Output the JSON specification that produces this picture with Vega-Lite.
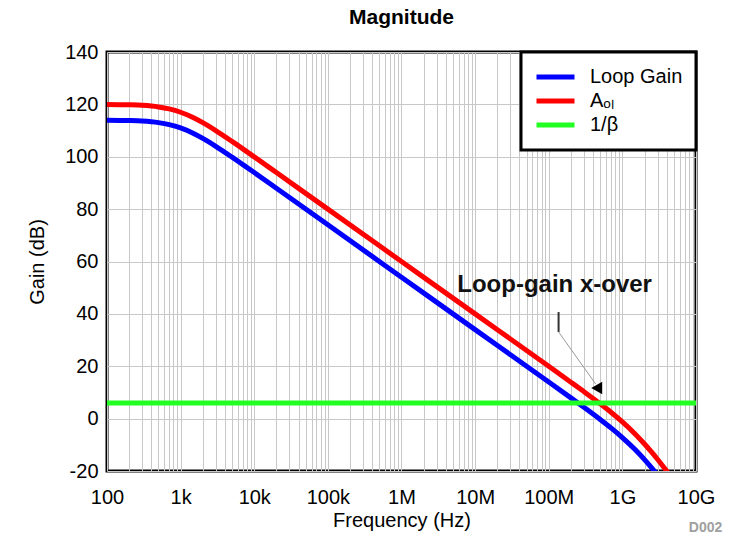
{
  "$schema": "https://vega.github.io/schema/vega-lite/v6.json",
  "autosize": {"type": "none"},
  "padding": {"left": 107, "top": 52, "right": 47, "bottom": 69},
  "width": 589,
  "height": 419,
  "title": {"text": "Magnitude", "fontSize": 21, "fontWeight": "bold", "font": "Liberation Sans", "color": "#000000", "offset": 14, "anchor": "middle"},
  "config": {
    "font": "Liberation Sans",
    "view": {"stroke": "#000000", "strokeWidth": 3},
    "legend": {"strokeWidth": 3},
    "axis": {"labelFont": "Liberation Sans", "titleFont": "Liberation Sans", "labelColor": "#000000", "titleColor": "#000000", "titleFontWeight": "normal", "gridColor": "#c8c8c8", "gridWidth": 1, "gridOpacity": 1, "domain": false, "ticks": false}
  },
  "datasets": {
    "curves": [
      {"f": 100, "gain": 119.96, "series": "Aₒₗ"},
      {"f": 200, "gain": 119.83, "series": "Aₒₗ"},
      {"f": 300, "gain": 119.63, "series": "Aₒₗ"},
      {"f": 500, "gain": 119.03, "series": "Aₒₗ"},
      {"f": 700, "gain": 118.27, "series": "Aₒₗ"},
      {"f": 1000, "gain": 116.99, "series": "Aₒₗ"},
      {"f": 1500, "gain": 114.88, "series": "Aₒₗ"},
      {"f": 2000, "gain": 113.01, "series": "Aₒₗ"},
      {"f": 3000, "gain": 110.0, "series": "Aₒₗ"},
      {"f": 5000, "gain": 105.85, "series": "Aₒₗ"},
      {"f": 7000, "gain": 103.01, "series": "Aₒₗ"},
      {"f": 10000, "gain": 99.96, "series": "Aₒₗ"},
      {"f": 20000, "gain": 93.97, "series": "Aₒₗ"},
      {"f": 50000, "gain": 86.02, "series": "Aₒₗ"},
      {"f": 100000, "gain": 80.0, "series": "Aₒₗ"},
      {"f": 1000000, "gain": 60.0, "series": "Aₒₗ"},
      {"f": 10000000, "gain": 40.0, "series": "Aₒₗ"},
      {"f": 100000000, "gain": 19.99, "series": "Aₒₗ"},
      {"f": 200000000, "gain": 13.92, "series": "Aₒₗ"},
      {"f": 300000000, "gain": 10.33, "series": "Aₒₗ"},
      {"f": 500000000, "gain": 5.68, "series": "Aₒₗ"},
      {"f": 700000000, "gain": 2.45, "series": "Aₒₗ"},
      {"f": 1000000000, "gain": -1.24, "series": "Aₒₗ"},
      {"f": 1500000000, "gain": -5.93, "series": "Aₒₗ"},
      {"f": 2000000000, "gain": -9.68, "series": "Aₒₗ"},
      {"f": 2500000000, "gain": -12.82, "series": "Aₒₗ"},
      {"f": 3000000000, "gain": -15.53, "series": "Aₒₗ"},
      {"f": 3500000000, "gain": -17.91, "series": "Aₒₗ"},
      {"f": 4000000000, "gain": -20.02, "series": "Aₒₗ"},
      {"f": 4500000000, "gain": -21.92, "series": "Aₒₗ"},
      {"f": 100, "gain": 113.96, "series": "Loop Gain"},
      {"f": 200, "gain": 113.83, "series": "Loop Gain"},
      {"f": 300, "gain": 113.63, "series": "Loop Gain"},
      {"f": 500, "gain": 113.03, "series": "Loop Gain"},
      {"f": 700, "gain": 112.27, "series": "Loop Gain"},
      {"f": 1000, "gain": 110.99, "series": "Loop Gain"},
      {"f": 1500, "gain": 108.88, "series": "Loop Gain"},
      {"f": 2000, "gain": 107.01, "series": "Loop Gain"},
      {"f": 3000, "gain": 104.0, "series": "Loop Gain"},
      {"f": 5000, "gain": 99.85, "series": "Loop Gain"},
      {"f": 7000, "gain": 97.01, "series": "Loop Gain"},
      {"f": 10000, "gain": 93.96, "series": "Loop Gain"},
      {"f": 20000, "gain": 87.97, "series": "Loop Gain"},
      {"f": 50000, "gain": 80.02, "series": "Loop Gain"},
      {"f": 100000, "gain": 74.0, "series": "Loop Gain"},
      {"f": 1000000, "gain": 54.0, "series": "Loop Gain"},
      {"f": 10000000, "gain": 34.0, "series": "Loop Gain"},
      {"f": 100000000, "gain": 13.99, "series": "Loop Gain"},
      {"f": 200000000, "gain": 7.92, "series": "Loop Gain"},
      {"f": 300000000, "gain": 4.33, "series": "Loop Gain"},
      {"f": 500000000, "gain": -0.32, "series": "Loop Gain"},
      {"f": 700000000, "gain": -3.55, "series": "Loop Gain"},
      {"f": 1000000000, "gain": -7.24, "series": "Loop Gain"},
      {"f": 1500000000, "gain": -11.93, "series": "Loop Gain"},
      {"f": 2000000000, "gain": -15.68, "series": "Loop Gain"},
      {"f": 2500000000, "gain": -18.82, "series": "Loop Gain"},
      {"f": 3000000000, "gain": -21.53, "series": "Loop Gain"},
      {"f": 100, "gain": 6, "series": "1/β"},
      {"f": 10000000000, "gain": 6, "series": "1/β"}
    ]
  },
  "layer": [
    {
      "data": {"name": "curves"},
      "mark": {"type": "line", "strokeWidth": 5, "clip": true, "interpolate": "monotone"},
      "encoding": {
        "x": {
          "field": "f", "type": "quantitative",
          "scale": {"type": "log", "domain": [100, 10000000000], "nice": false},
          "axis": {
            "title": "Frequency (Hz)", "titleFontSize": 20, "titlePadding": 3,
            "labelFontSize": 20, "labelPadding": 16, "labelOverlap": false, "labelFlush": false,
            "values": [100,200,300,400,500,600,700,800,900,1000,2000,3000,4000,5000,6000,7000,8000,9000,10000,20000,30000,40000,50000,60000,70000,80000,90000,100000,200000,300000,400000,500000,600000,700000,800000,900000,1000000,2000000,3000000,4000000,5000000,6000000,7000000,8000000,9000000,10000000,20000000,30000000,40000000,50000000,60000000,70000000,80000000,90000000,100000000,200000000,300000000,400000000,500000000,600000000,700000000,800000000,900000000,1000000000,2000000000,3000000000,4000000000,5000000000,6000000000,7000000000,8000000000,9000000000,10000000000],
            "labelExpr": "indexof([100,1000,10000,100000,1000000,10000000,100000000,1000000000,10000000000], datum.value) >= 0 ? format(datum.value, '~s') : ''"
          }
        },
        "y": {
          "field": "gain", "type": "quantitative",
          "scale": {"domain": [-20, 140], "nice": false, "zero": false},
          "axis": {"title": "Gain (dB)", "titleFontSize": 20, "titlePadding": 17, "labelFontSize": 20, "labelPadding": 9, "values": [-20, 0, 20, 40, 60, 80, 100, 120, 140], "labelExpr": "toString(datum.value)"}
        },
        "color": {
          "field": "series", "type": "nominal",
          "scale": {"domain": ["Loop Gain", "Aₒₗ", "1/β"], "range": ["#0000ff", "#ff0000", "#22ff22"]},
          "legend": {
            "title": null, "orient": "top-right", "offset": 0, "padding": 13,
            "fillColor": "#ffffff", "strokeColor": "#000000",
            "symbolType": "stroke", "symbolStrokeWidth": 5, "symbolSize": 1444,
            "labelFontSize": 20, "labelFont": "Liberation Sans", "labelColor": "#000000", "labelOffset": 13,
            "clipHeight": 24, "rowPadding": 0, "labelLimit": 300
          }
        },
        "order": {"field": "f", "type": "quantitative"}
      }
    },
    {
      "data": {"values": [{"f": 120000000, "gain": 51, "label": "Loop-gain x-over"}]},
      "mark": {"type": "text", "fontSize": 24, "fontWeight": "bold", "font": "Liberation Sans", "color": "#111111", "align": "center", "baseline": "middle"},
      "encoding": {"x": {"field": "f", "type": "quantitative"}, "y": {"field": "gain", "type": "quantitative"}, "text": {"field": "label"}}
    },
    {
      "data": {"values": [{"f": 136000000, "g1": 40.7, "g2": 33.1}]},
      "mark": {"type": "rule", "color": "#333333", "strokeWidth": 2},
      "encoding": {"x": {"field": "f", "type": "quantitative"}, "y": {"field": "g1", "type": "quantitative"}, "y2": {"field": "g2"}}
    },
    {
      "data": {"values": [{"f1": 136000000, "f2": 434000000, "g1": 33.1, "g2": 13.2}]},
      "mark": {"type": "rule", "color": "#999999", "strokeWidth": 1},
      "encoding": {"x": {"field": "f1", "type": "quantitative"}, "x2": {"field": "f2"}, "y": {"field": "g1", "type": "quantitative"}, "y2": {"field": "g2"}}
    },
    {
      "data": {"values": [{"f": 448000000, "gain": 11.7}]},
      "mark": {"type": "point", "shape": "triangle-left", "filled": true, "color": "#000000", "size": 160, "opacity": 1},
      "encoding": {"x": {"field": "f", "type": "quantitative"}, "y": {"field": "gain", "type": "quantitative"}}
    },
    {
      "data": {"values": [{"f": 13500000000, "gain": -41.8, "label": "D002"}]},
      "mark": {"type": "text", "fontSize": 14, "fontWeight": "bold", "font": "Liberation Sans", "color": "#a0a0a0", "align": "center", "baseline": "middle", "clip": false},
      "encoding": {"x": {"field": "f", "type": "quantitative"}, "y": {"field": "gain", "type": "quantitative"}, "text": {"field": "label"}}
    }
  ]
}
